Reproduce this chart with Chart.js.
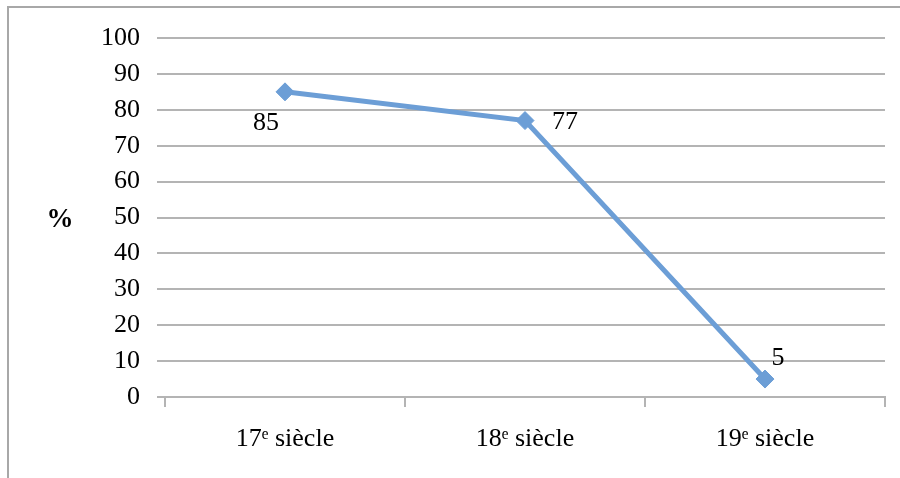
<!DOCTYPE html>
<html>
<head>
<meta charset="utf-8">
<script src="https://cdn.jsdelivr.net/npm/chart.js@4"></script>
<style>
  html, body { margin: 0; padding: 0; background: #ffffff; }
  #wrap { width: 900px; height: 478px; position: relative; }
</style>
</head>
<body>
<div id="wrap"><canvas id="c" width="900" height="478"></canvas></div>
<script>
// Share (%) by century
const categories = ['17ᵉ siècle', '18ᵉ siècle', '19ᵉ siècle'];
const values = [85, 77, 5];
const yTicks = [0, 10, 20, 30, 40, 50, 60, 70, 80, 90, 100];
const yAxisLabel = '%';

const SERIF = '"Liberation Serif", "DejaVu Serif", serif';
const LINE_BLUE = '#6c9ed6';
const GRID_GRAY = '#b4b4b4';

// Offsets of each value label from its point (pixels)
const labelOffsets = [[-19, 31], [40, 2], [13, -21]];

const framePlugin = {
  id: 'frame',
  beforeDraw(chart) {
    const ctx = chart.ctx;
    ctx.save();
    ctx.strokeStyle = '#a8a8a8';
    ctx.lineWidth = 2;
    ctx.beginPath();
    ctx.moveTo(8, chart.height + 2);
    ctx.lineTo(8, 7);
    ctx.lineTo(chart.width + 2, 7);
    ctx.stroke();
    ctx.restore();
  },
  afterDraw(chart) {
    const ctx = chart.ctx;
    const y = chart.scales.y;
    ctx.save();
    ctx.fillStyle = '#000';
    ctx.font = 'bold 27px ' + SERIF;
    ctx.textAlign = 'center';
    ctx.textBaseline = 'middle';
    ctx.fillText(yAxisLabel, 60, y.getPixelForValue(50) + 3);
    ctx.restore();
  }
};

const valueLabelPlugin = {
  id: 'valueLabels',
  afterDatasetsDraw(chart) {
    const ctx = chart.ctx;
    const meta = chart.getDatasetMeta(0);
    const data = chart.data.datasets[0].data;
    ctx.save();
    ctx.fillStyle = '#000';
    ctx.font = '26px ' + SERIF;
    ctx.textAlign = 'center';
    ctx.textBaseline = 'middle';
    meta.data.forEach((pt, i) => {
      const off = labelOffsets[i] || [0, -20];
      ctx.fillText(String(data[i]), pt.x + off[0], pt.y + off[1]);
    });
    ctx.restore();
  }
};

new Chart(document.getElementById('c'), {
  type: 'line',
  data: {
    labels: categories,
    datasets: [{
      data: values,
      borderColor: LINE_BLUE,
      backgroundColor: LINE_BLUE,
      borderWidth: 5,
      pointStyle: 'rectRot',
      pointRadius: 9,
      pointHoverRadius: 9,
      pointBackgroundColor: LINE_BLUE,
      pointBorderColor: LINE_BLUE,
      pointBorderWidth: 1,
      tension: 0,
      clip: false
    }]
  },
  options: {
    responsive: false,
    animation: false,
    events: [],
    layout: { padding: { left: 0, right: 15, top: 38, bottom: 0 } },
    plugins: { legend: { display: false }, tooltip: { enabled: false } },
    scales: {
      x: {
        type: 'category',
        offset: true,
        grid: {
          offset: true,
          drawOnChartArea: false,
          drawTicks: true,
          tickLength: 10,
          color: GRID_GRAY,
          lineWidth: 2
        },
        border: { display: true, color: GRID_GRAY, width: 2 },
        ticks: {
          color: '#000',
          font: { family: SERIF, size: 26 },
          padding: 17,
          maxRotation: 0
        },
        afterFit(scale) { scale.height = 81; }
      },
      y: {
        min: 0,
        max: 100,
        afterBuildTicks(scale) { scale.ticks = yTicks.map(v => ({ value: v })); },
        grid: {
          color: GRID_GRAY,
          lineWidth: 2,
          drawTicks: true,
          tickLength: 8
        },
        border: { display: false },
        ticks: {
          color: '#000',
          font: { family: SERIF, size: 26 },
          padding: 17
        },
        afterFit(scale) { scale.width = 165; }
      }
    }
  },
  plugins: [framePlugin, valueLabelPlugin]
});
</script>
</body>
</html>
